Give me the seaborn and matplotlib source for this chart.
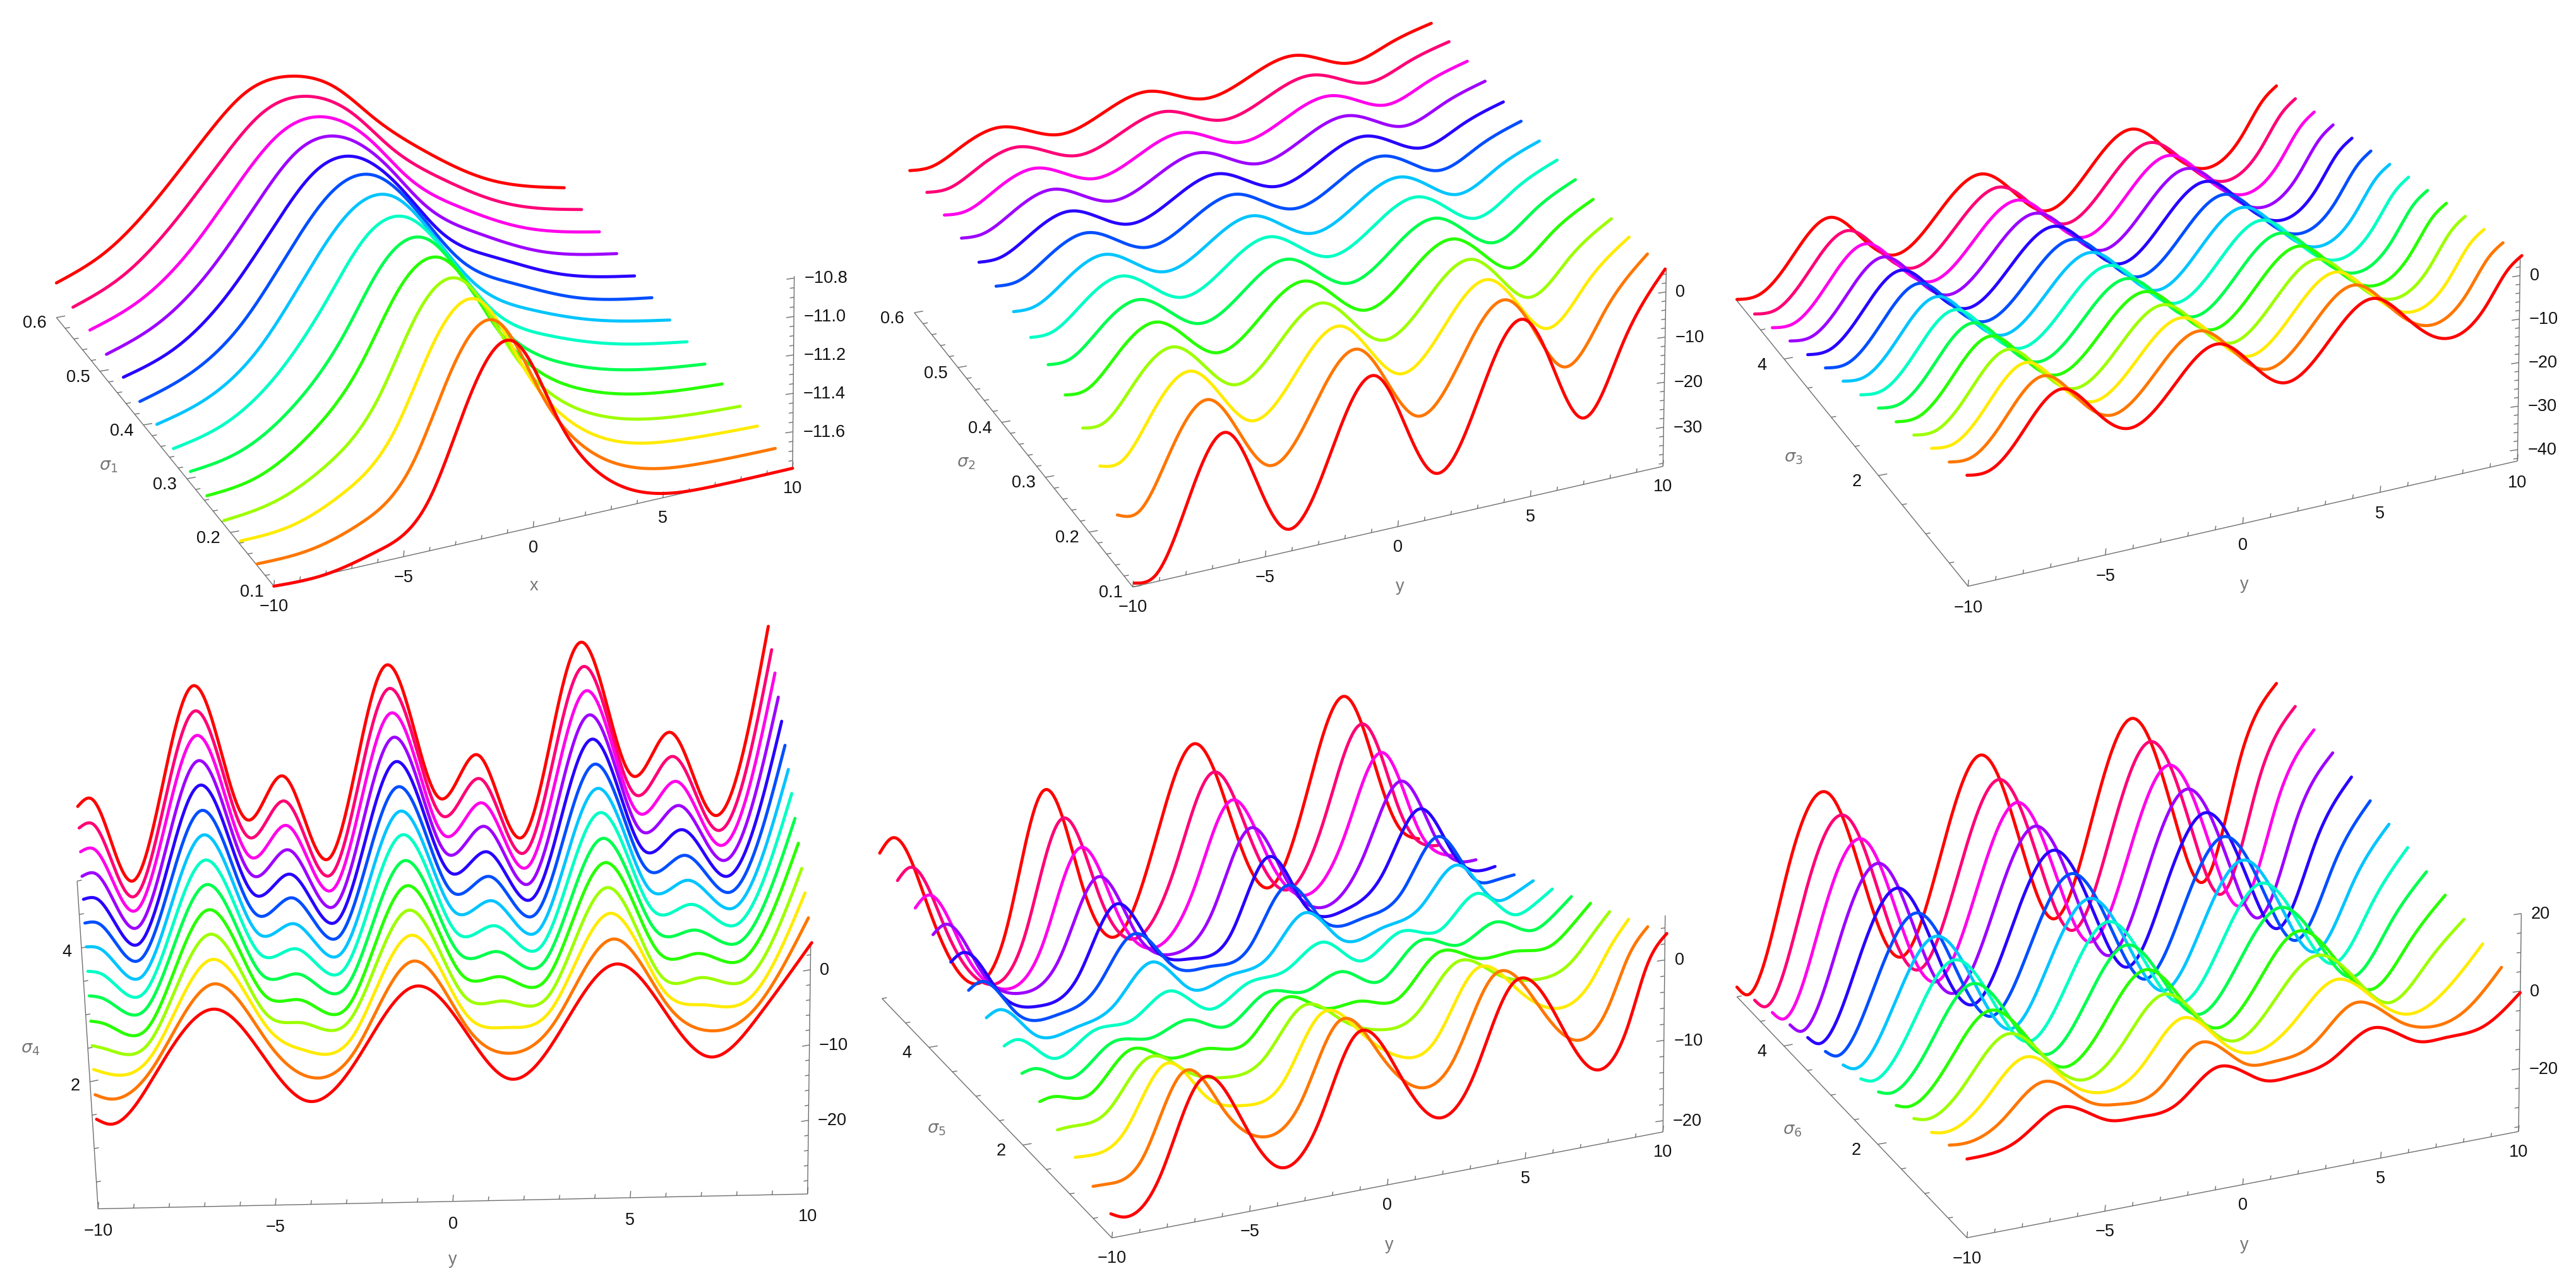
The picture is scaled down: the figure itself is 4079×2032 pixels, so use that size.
import numpy as np
import pandas as pd
import matplotlib
matplotlib.use("Agg")
import matplotlib.pyplot as plt
import seaborn as sns

sigma_a = [0.1, 0.138, 0.177, 0.215, 0.254, 0.292, 0.331, 0.369, 0.408, 0.446, 0.485, 0.523, 0.562, 0.6]
sigma_b = [0.1, 0.477, 0.854, 1.231, 1.608, 1.985, 2.362, 2.738, 3.115, 3.492, 3.869, 4.246, 4.623, 5.0]

# every row: one position on the horizontal axis; values front curve -> back curve
p1_x = [-10, -8, -6, -4, -2.5, -0.75, 1, 2.5, 4.5, 7, 10]
p1_z = [
 [-11.79,-11.78,-11.77,-11.77,-11.75,-11.73,-11.72,-11.70,-11.69,-11.67,-11.66,-11.64,-11.63,-11.61],
 [-11.79,-11.77,-11.75,-11.73,-11.71,-11.68,-11.65,-11.62,-11.60,-11.58,-11.56,-11.54,-11.52,-11.50],
 [-11.73,-11.69,-11.64,-11.60,-11.55,-11.51,-11.46,-11.42,-11.40,-11.37,-11.35,-11.33,-11.30,-11.28],
 [-11.52,-11.44,-11.37,-11.31,-11.24,-11.19,-11.12,-11.06,-11.05,-11.04,-11.03,-11.02,-11.01,-11.00],
 [-11.05,-11.00,-10.96,-10.92,-10.89,-10.87,-10.84,-10.82,-10.82,-10.82,-10.82,-10.83,-10.83,-10.83],
 [-10.80,-10.80,-10.80,-10.80,-10.80,-10.80,-10.80,-10.79,-10.79,-10.80,-10.80,-10.80,-10.80,-10.80],
 [-11.27,-11.24,-11.21,-11.19,-11.16,-11.13,-11.10,-11.08,-11.05,-11.03,-11.00,-10.97,-10.94,-10.91],
 [-11.58,-11.54,-11.50,-11.47,-11.44,-11.41,-11.38,-11.35,-11.32,-11.29,-11.25,-11.21,-11.16,-11.11],
 [-11.75,-11.72,-11.69,-11.66,-11.63,-11.60,-11.56,-11.53,-11.50,-11.47,-11.45,-11.42,-11.38,-11.34],
 [-11.79,-11.78,-11.76,-11.75,-11.73,-11.71,-11.68,-11.66,-11.65,-11.63,-11.62,-11.60,-11.58,-11.56],
 [-11.79,-11.79,-11.78,-11.78,-11.77,-11.77,-11.76,-11.75,-11.74,-11.73,-11.72,-11.71,-11.70,-11.69],
]

p2_x = [-10, -9.2, -8.1, -6.5, -5.4, -4.3, -2.6, -0.85, 0.2, 1.3, 3, 4.75, 5.8, 6.85, 8.4, 10]
p2_z = [
 [-37.8,-27.4,-21.4,-17.7,-15.2,-13.2,-12.0,-11.0,-10.2,-9.6,-9.1,-8.7,-8.5,-8.4],
 [-37.1,-27.8,-21.5,-17.6,-15.1,-13.1,-11.9,-10.9,-10.2,-9.6,-9.2,-8.9,-8.7,-8.6],
 [-24.1,-17.2,-13.0,-10.7,-9.2,-8.1,-7.4,-6.9,-6.5,-6.2,-6.0,-5.8,-5.7,-5.8],
 [-9.1,-6.5,-5.0,-4.3,-3.6,-3.3,-2.9,-2.8,-2.8,-2.7,-2.7,-2.7,-2.8,-3.1],
 [-21.25,-15.25,-11.95,-9.95,-8.45,-7.4,-6.7,-6.15,-5.85,-5.55,-5.4,-5.25,-5.15,-5.3],
 [-33.4,-24.0,-18.9,-15.6,-13.3,-11.5,-10.5,-9.5,-8.9,-8.4,-8.1,-7.8,-7.5,-7.5],
 [-18.8,-13.45,-10.7,-8.8,-7.6,-6.6,-6.0,-5.5,-5.2,-5.0,-4.9,-4.85,-4.75,-4.85],
 [-4.2,-2.9,-2.5,-2.0,-1.9,-1.7,-1.5,-1.5,-1.5,-1.6,-1.7,-1.9,-2.0,-2.2],
 [-16.35,-11.7,-9.2,-7.55,-6.55,-5.8,-5.1,-4.85,-4.5,-4.4,-4.3,-4.35,-4.3,-4.35],
 [-28.5,-20.5,-15.9,-13.1,-11.2,-9.9,-8.7,-8.2,-7.5,-7.2,-6.9,-6.8,-6.6,-6.5],
 [-13.85,-9.95,-7.75,-6.4,-5.55,-4.9,-4.3,-4.15,-3.85,-3.8,-3.75,-3.8,-3.8,-3.85],
 [0.8,0.6,0.4,0.3,0.1,0.1,0.1,-0.1,-0.2,-0.4,-0.6,-0.8,-0.95,-1.2],
 [-11.45,-8.2,-6.4,-5.3,-4.5,-4.0,-3.65,-3.4,-3.15,-3.05,-3.1,-3.15,-3.1,-3.35],
 [-23.7,-17.0,-13.2,-10.9,-9.1,-8.1,-7.4,-6.7,-6.1,-5.7,-5.6,-5.5,-5.3,-5.5],
 [-9.3,-6.6,-5.15,-4.25,-3.55,-3.15,-2.95,-2.8,-2.65,-2.6,-2.6,-2.6,-2.7,-3.05],
 [5.1,3.85,2.9,2.4,2.0,1.8,1.45,1.1,0.8,0.5,0.4,0.25,-0.1,-0.6],
]

p3_x = [-10, -9.2, -8.3, -6.55, -5.4, -4.2, -2.55, -0.9, 0.25, 1.42, 3.05, 4.7, 5.85, 7.0, 8.7, 9.5, 10]
p3_z = [
 [-17.1,-19.1,-21.0,-23.0,-25.0,-26.9,-28.9,-30.8,-32.8,-34.8,-36.7,-38.7,-40.6,-42.3],
 [-17.2,-19.2,-21.1,-23.1,-25.0,-27.0,-29.0,-30.9,-32.9,-34.8,-36.8,-38.8,-40.7,-42.4],
 [-12.5,-14.5,-16.4,-18.4,-20.3,-22.3,-24.3,-26.2,-28.2,-30.1,-32.1,-34.1,-36.0,-38.0],
 [-2.2,-4.2,-6.2,-8.2,-10.2,-12.2,-14.2,-16.2,-18.2,-20.2,-22.2,-24.2,-26.2,-28.2],
 [-8.8,-10.8,-12.7,-14.7,-16.6,-18.6,-20.6,-22.5,-24.5,-26.4,-28.4,-30.4,-32.3,-34.3],
 [-14.7,-16.7,-18.6,-20.6,-22.5,-24.5,-26.4,-28.4,-30.3,-32.3,-34.2,-36.2,-38.1,-40.1],
 [-7.3,-9.3,-11.2,-13.2,-15.1,-17.1,-19.1,-21.0,-23.0,-24.9,-26.9,-28.9,-30.8,-32.8],
 [0.0,-2.0,-4.0,-6.0,-8.0,-10.0,-12.0,-14.0,-16.0,-18.0,-20.0,-22.0,-24.0,-26.0],
 [-6.2,-8.2,-10.1,-12.1,-14.0,-16.0,-18.0,-19.9,-21.9,-23.8,-25.8,-27.8,-29.7,-31.7],
 [-12.3,-14.2,-16.2,-18.2,-20.1,-22.1,-24.0,-26.0,-27.9,-29.9,-31.8,-33.8,-35.7,-37.7],
 [-5.0,-7.0,-8.9,-10.9,-12.8,-14.8,-16.8,-18.7,-20.7,-22.6,-24.6,-26.6,-28.5,-30.5],
 [2.4,0.5,-1.5,-3.5,-5.5,-7.5,-9.5,-11.5,-13.5,-15.5,-17.5,-19.5,-21.5,-23.4],
 [-3.8,-5.8,-7.7,-9.7,-11.6,-13.6,-15.6,-17.5,-19.5,-21.4,-23.4,-25.4,-27.3,-29.3],
 [-10.0,-12.0,-13.9,-15.9,-17.8,-19.8,-21.8,-23.7,-25.7,-27.6,-29.6,-31.6,-33.5,-35.5],
 [-5.2,-7.2,-9.1,-11.1,-13.0,-15.0,-17.0,-18.9,-20.9,-22.8,-24.8,-26.8,-28.7,-30.7],
 [2.1,0.1,-1.8,-3.8,-5.7,-7.7,-9.7,-11.6,-13.6,-15.5,-17.5,-19.5,-21.4,-23.4],
 [4.6,2.6,0.7,-1.25,-3.2,-5.2,-7.1,-9.1,-11.0,-13.0,-14.9,-16.9,-18.8,-20.8],
]

p4_x = [-10, -9.6, -8.4, -6.68, -5.08, -4.07, -2.73, -1.08, 0.5, 1.58, 2.87, 4.55, 6.06, 7.15, 8.43, 10]
p4_z = [
 [-17.9,-17.9,-17.8,-17.9,-17.9,-17.8,-17.8,-17.8,-17.9,-18.0,-18.2,-18.2,-18.3,-18.7],
 [-18.6,-18.5,-18.4,-18.4,-18.3,-18.2,-18.2,-18.1,-18.0,-18.0,-17.9,-17.9,-17.8,-17.7],
 [-12.4,-14.6,-16.3,-17.7,-19.0,-19.7,-20.8,-21.8,-22.8,-24.0,-25.1,-26.1,-27.5,-28.7],
 [-3.6,-3.5,-3.5,-3.4,-3.4,-3.3,-3.3,-3.2,-3.2,-3.1,-3.1,-3.0,-3.0,-2.9],
 [-11.7,-11.9,-12.9,-14.2,-14.9,-15.5,-16.0,-16.5,-17.2,-17.8,-18.5,-19.3,-19.9,-20.8],
 [-16.1,-16.0,-15.8,-15.4,-15.6,-15.4,-15.3,-15.2,-15.0,-15.1,-15.1,-15.1,-15.1,-15.0],
 [-10.8,-12.9,-14.2,-15.1,-16.6,-17.3,-18.2,-19.2,-20.2,-21.4,-22.6,-23.7,-25.0,-26.1],
 [-1.1,-1.0,-0.8,-0.7,-0.7,-0.6,-0.4,-0.5,-0.5,-0.4,-0.4,-0.4,-0.4,-0.5],
 [-8.5,-10.4,-11.6,-12.3,-12.7,-13.1,-13.6,-14.0,-14.6,-15.2,-16.0,-16.8,-17.4,-18.3],
 [-13.7,-13.5,-13.3,-13.0,-13.0,-12.9,-12.7,-12.6,-12.6,-12.55,-12.4,-12.5,-12.5,-12.55],
 [-8.2,-9.6,-11.0,-12.4,-13.5,-14.5,-15.6,-16.7,-17.7,-18.8,-20.0,-21.1,-22.4,-23.6],
 [1.3,1.4,1.6,1.8,1.9,1.9,2.1,2.1,2.1,2.2,2.2,2.2,2.2,2.2],
 [-6.3,-7.6,-9.0,-10.2,-10.2,-10.5,-11.0,-11.5,-12.0,-12.7,-13.3,-14.1,-14.9,-15.6],
 [-11.3,-11.0,-10.8,-10.4,-10.4,-10.5,-10.3,-10.3,-10.2,-10.0,-10.0,-10.0,-9.9,-9.9],
 [-6.5,-8.6,-10.1,-10.8,-11.3,-12.2,-13.1,-14.1,-15.2,-16.3,-17.4,-18.6,-19.8,-21.0],
 [3.6,3.7,3.8,3.85,4.0,4.1,4.2,4.2,4.2,4.2,4.2,4.2,4.1,4.0],
]

p5_x = [-10, -9.55, -8.2, -6.75, -5.3, -3.95, -2.5, -1.15, 0.3, 1.67, 3, 4.45, 5.9, 7.25, 8.6, 9.3, 10]
p5_z = [
 [-18.4,-17.3,-16.0,-14.9,-13.7,-12.5,-11.4,-10.2,-9.1,-7.9,-6.8,-5.8,-4.7,-3.6],
 [-19.1,-17.35,-16.1,-14.8,-13.4,-12.2,-10.9,-9.5,-8.3,-7.0,-5.8,-4.5,-3.35,-2.0],
 [-14.7,-14.9,-13.9,-13.8,-14.0,-14.2,-14.1,-13.5,-13.2,-12.9,-12.6,-12.3,-12.0,-11.4],
 [-3.8,-5.2,-6.5,-8.1,-9.4,-10.8,-11.6,-13.5,-14.2,-15.4,-16.1,-17.9,-19.5,-21.5],
 [-9.7,-10.8,-11.4,-10.7,-11.3,-11.1,-11.1,-11.5,-11.7,-12.5,-12.4,-13.3,-14.6,-16.0],
 [-16.6,-15.1,-13.5,-12.3,-11.0,-9.7,-8.4,-7.1,-5.9,-4.5,-3.4,-2.1,-0.8,0.4],
 [-11.8,-11.7,-11.6,-10.8,-11.2,-11.4,-11.6,-11.4,-10.8,-11.0,-11.4,-11.3,-11.4,-12.0],
 [-1.8,-2.6,-4.0,-5.3,-6.6,-8.2,-9.3,-10.6,-11.7,-13.0,-14.7,-16.2,-17.3,-19.2],
 [-7.3,-7.4,-7.1,-7.9,-8.7,-8.9,-8.5,-9.2,-10.2,-10.8,-10.3,-9.7,-9.1,-7.5],
 [-14.1,-12.6,-11.0,-10.0,-8.7,-7.3,-5.9,-4.5,-3.4,-2.1,-0.8,0.4,1.6,2.9],
 [-10.2,-10.1,-10.0,-8.9,-9.3,-9.4,-9.1,-8.7,-8.6,-8.9,-7.9,-7.3,-6.9,-6.8],
 [0.7,-0.5,-2.1,-3.4,-4.5,-5.3,-6.4,-8.2,-9.2,-10.5,-12.3,-13.1,-14.7,-16.7],
 [-3.5,-4.4,-5.2,-5.8,-6.1,-6.7,-7.1,-6.4,-6.8,-6.7,-6.6,-6.2,-5.7,-5.2],
 [-11.6,-10.3,-8.7,-7.4,-6.1,-4.7,-3.4,-2.1,-0.8,0.4,1.6,2.9,4.2,5.4],
 [-7.3,-7.0,-6.5,-6.1,-6.2,-6.6,-6.9,-7.3,-7.1,-6.7,-6.8,-7.6,-7.5,-6.4],
 [-0.1,-1.35,-2.6,-3.45,-4.3,-5.35,-6.2,-7.0,-7.55,-8.6,-9.6,-10.8,-11.7,-12.3],
 [3.3,1.9,0.6,-0.7,-1.9,-3.3,-4.6,-5.8,-7.3,-8.5,-9.9,-11.6,-12.6,-14.0],
]

p6_x = [-10, -9.6, -8.1, -6.62, -4.85, -3.9, -2.4, -0.95, 0.8, 1.7, 3.2, 4.65, 6.34, 7.26, 8.7, 10]
p6_z = [
 [-15.9,-17.1,-18.6,-19.8,-21.2,-22.5,-23.9,-25.1,-26.4,-27.6,-29.1,-30.7,-32.3,-33.7],
 [-15.9,-17.4,-19.2,-20.6,-22.1,-23.4,-25.0,-26.6,-28.1,-29.7,-31.3,-32.9,-34.5,-36.2],
 [-13.4,-13.4,-13.2,-13.0,-12.8,-12.5,-12.2,-11.5,-10.2,-9.5,-8.0,-7.2,-6.5,-5.5],
 [-7.2,-5.4,-3.8,-2.6,-1.3,0.8,2.2,3.6,4.9,6.5,8.0,9.5,10.8,12.0],
 [-13.0,-13.2,-13.5,-13.6,-13.8,-14.0,-14.5,-15.3,-17.1,-19.1,-20.9,-22.1,-22.6,-22.7],
 [-13.6,-14.9,-16.6,-18.1,-19.5,-21.0,-22.4,-23.9,-25.3,-27.0,-28.7,-30.5,-32.2,-33.7],
 [-12.1,-12.9,-12.1,-10.7,-9.9,-9.1,-8.7,-7.9,-7.6,-7.3,-7.5,-7.7,-7.9,-8.1],
 [-4.6,-3.1,-1.5,-0.05,1.6,3.3,4.6,5.9,7.6,8.9,10.4,11.8,13.0,14.6],
 [-10.5,-11.0,-11.3,-11.6,-11.9,-12.3,-12.8,-13.2,-13.6,-14.1,-14.9,-15.6,-16.3,-16.9],
 [-10.7,-11.6,-13.8,-15.5,-16.9,-18.1,-19.8,-21.4,-23.1,-24.7,-26.4,-27.6,-29.3,-31.0],
 [-8.3,-8.9,-7.6,-6.2,-6.9,-6.0,-6.2,-5.8,-5.5,-5.1,-5.8,-5.9,-6.1,-6.2],
 [-2.2,-0.5,0.9,2.5,4.1,5.5,7.1,8.4,9.8,11.3,12.7,14.2,15.6,16.9],
 [-8.0,-7.6,-7.8,-7.9,-8.5,-8.7,-9.3,-9.9,-10.5,-10.7,-11.8,-12.4,-13.1,-13.7],
 [-8.3,-10.2,-11.5,-13.2,-14.5,-15.9,-17.1,-18.7,-20.4,-22.0,-23.9,-25.5,-27.1,-28.7],
 [-7.2,-7.8,-6.9,-4.5,-4.1,-3.7,-3.4,-2.5,-2.1,-1.2,0.3,0.7,1.6,2.5],
 [-0.4,1.5,2.9,4.6,6.2,7.6,9.2,10.6,12.0,13.5,15.1,16.4,17.8,19.1],
]

x_ticks = [-10, -5, 0, 5, 10]
minus = "\u2212"


def fmt(v, dec=0):
    s = f"{abs(v):.{dec}f}"
    return (minus + s) if v < 0 else s


# camera of each panel: view box offsets and floor corners
PANELS = [
 dict(name="x", sig="1", xk=p1_x, zt=p1_z, sigma=sigma_a, ox=0, oy=60, sx=1568/1360, sy=1568/960,
      FL=(500,1420), FR=(1447,1115), BL=(103,725), BR=(1030,439), axL=500, axR=1447, zmin=-11.79, k=497, ztop=-10.79,
      zt_major=[-11.6,-11.4,-11.2,-11.0,-10.8], zt_minor=0.05, zdec=1, s_major=[0.1,0.2,0.3,0.4,0.5,0.6], s_minor=0.02, sdec=1,
      tend=1.0, tilt=3, xlab=(975,1417), slab=(198,1107)),
 dict(name="y", sig="2", xk=p2_x, zt=p2_z, sigma=sigma_a, ox=1360, oy=0, sx=1568/1360, sy=1568/960,
      FL=(503,1520), FR=(1472,1208), BL=(93,796), BR=(1045,506), axL=500, axR=1468, zmin=-38.65, k=11.67, ztop=4.9,
      zt_major=[-30,-20,-10,0], zt_minor=2, zdec=0, s_major=[0.1,0.2,0.3,0.4,0.5,0.6], s_minor=0.02, sdec=1,
      tend=0.98, tilt=6, xlab=(988,1517), slab=(196,1198)),
 dict(name="y", sig="3", xk=p3_x, zt=p3_z, sigma=sigma_b, ox=2720, oy=0, sx=1568/1360, sy=1568/1010,
      FL=(455,1443), FR=(1468,1135), BL=(35,741), BR=(1020,446), axL=457, axR=1460, zmin=-42.6, k=10.7, ztop=4.4,
      zt_major=[-40,-30,-20,-10,0], zt_minor=2, zdec=0, s_major=[2,4], s_minor=0.5, sdec=0,
      tend=1.0, tilt=5, xlab=(961,1438), slab=(138,1125)),
 dict(name="y", sig="4", xk=p4_x, zt=p4_z, sigma=sigma_b, ox=60, oy=980, sx=1568/1300, sy=1568/1050,
      FL=(112,1397), FR=(1478,1362), BL=(76,643), BR=(1395,621), axL=115, axR=1470, zmin=-29.8, k=17.8, ztop=3.46,
      zt_major=[-20,-10,0], zt_minor=2, zdec=0, s_major=[2,4], s_minor=0.5, sdec=0,
      tend=1.028, tilt=6, xlab=(792,1515), slab=(-14,1017)),
 dict(name="y", sig="5", xk=p5_x, zt=p5_z, sigma=sigma_b, ox=1360, oy=1080, sx=1568/1360, sy=1568/950,
      FL=(460,1455), FR=(1475,1178), BL=(38,823), BR=(1022,567), axL=462, axR=1468, zmin=-21.4, k=21, ztop=5.55,
      zt_major=[-20,-10,0], zt_minor=2, zdec=0, s_major=[2,4], s_minor=0.5, sdec=0,
      tend=0.99, tilt=4, xlab=(968,1472), slab=(142,1168)),
 dict(name="y", sig="6", xk=p6_x, zt=p6_z, sigma=sigma_b, ox=2720, oy=1060, sx=1568/1360, sy=1568/970,
      FL=(455,1457), FR=(1465,1185), BL=(35,840), BR=(1020,587), axL=455, axR=1462, zmin=-36.2, k=9.93, ztop=20.0,
      zt_major=[-20,0,20], zt_minor=5, zdec=0, s_major=[2,4], s_minor=0.5, sdec=0,
      tend=1.0, tilt=5, xlab=(961,1475), slab=(136,1180)),
]


def smooth(xk, yk, xq):
    """Natural cubic spline through the read values: only the look of the drawn line."""
    xk, yk = np.asarray(xk, float), np.asarray(yk, float)
    n = len(xk)
    h = np.diff(xk)
    A = np.zeros((n, n))
    b = np.zeros(n)
    A[0, 0] = A[-1, -1] = 1
    for j in range(1, n - 1):
        A[j, j - 1] = h[j - 1]
        A[j, j] = 2 * (h[j - 1] + h[j])
        A[j, j + 1] = h[j]
        b[j] = 6 * ((yk[j + 1] - yk[j]) / h[j] - (yk[j] - yk[j - 1]) / h[j - 1])
    m = np.linalg.solve(A, b)
    i = np.clip(np.searchsorted(xk, xq, side="right") - 1, 0, n - 2)
    a = xk[i + 1] - xq
    c = xq - xk[i]
    return (m[i] * a**3 + m[i + 1] * c**3) / (6 * h[i]) + (yk[i] / h[i] - m[i] * h[i] / 6) * a + (yk[i + 1] / h[i] - m[i + 1] * h[i] / 6) * c


sns.set_theme(style="white")
plt.rcParams["font.family"] = ["Liberation Sans", "DejaVu Sans"]
plt.rcParams["mathtext.fontset"] = "dejavusans"

hues = sns.hls_palette(13, h=0, l=0.5, s=1.0)
palette = {i: (hues[i] if i < 13 else hues[0]) for i in range(14)}

fig = plt.figure(figsize=(40.8, 20.33), dpi=100)
ax = fig.add_axes([0, 0, 1, 1])
ax.set_xlim(0, 4080)
ax.set_ylim(2033, 0)
ax.axis("off")

AXC = "#6e6e6e"
TXT = "#111111"
LAB = "#777777"
FS = 19.5

for P in PANELS:
    FL, FR, BL, BR = map(np.array, (P["FL"], P["FR"], P["BL"], P["BR"]))
    smin, smax = P["sigma"][0], P["sigma"][-1]
    axL, axR = P["axL"], P["axR"]

    def floor(x, t):
        u = (np.asarray(x, float) + 10) / 20
        L = FL + (BL - FL) * t
        R = FR + (BR - FR) * t
        return L[0] + (R[0] - L[0]) * u, L[1] + (R[1] - L[1]) * u

    def axfloor(x):
        u = (x + 10) / 20
        return axL + (axR - axL) * u, FL[1] + (FR[1] - FL[1]) * u

    def real(dx, dy):
        return P["ox"] + np.asarray(dx) / P["sx"], P["oy"] + np.asarray(dy) / P["sy"]

    def seg(p, q, lw=1.0):
        rx, ry = real([p[0], q[0]], [p[1], q[1]])
        ax.plot(rx, ry, color=AXC, lw=lw, solid_capstyle="butt", zorder=1)

    # axes
    seg(axfloor(-10), axfloor(10))
    pA = (axL, FL[1])
    pB = (axL + (BL[0] - axL) * P["tend"], FL[1] + (BL[1] - FL[1]) * P["tend"])
    seg(pA, pB)
    ztopy = FR[1] - P["k"] * (P["ztop"] - P["zmin"])
    seg((axR, FR[1]), (axR + P["tilt"], ztopy))

    # horizontal axis ticks
    for v in range(-10, 11):
        fx, fy = axfloor(v)
        L = 16 if v in x_ticks else 10
        seg((fx, fy), (fx + 1, fy - L))
        if v in x_ticks:
            tx, ty = real(fx, fy + 52)
            ax.text(tx, ty, fmt(v), ha="center", va="center", fontsize=FS, color=TXT)
    tx, ty = real(*P["xlab"])
    ax.text(tx, ty, P["name"], ha="center", va="center", fontsize=FS, color=LAB)

    # sigma axis ticks
    first = np.ceil(smin / P["s_minor"] - 1e-9) * P["s_minor"]
    v = first
    while v <= smax + 1e-9:
        t = (v - smin) / (smax - smin) * P["tend"]
        fx = axL + (BL[0] - axL) * t
        fy = FL[1] + (BL[1] - FL[1]) * t
        major = any(abs(v - m) < 1e-6 for m in P["s_major"])
        L = 1.0 if major else 0.55
        seg((fx, fy), (fx + 16 * L, fy - 4 * L))
        if major:
            tx, ty = real(fx - 40 if P["sig"] != "4" else fx - 28, fy + 14 if P["sig"] != "4" else fy + 8)
            ax.text(tx, ty, fmt(v, P["sdec"]), ha="center", va="center", fontsize=FS, color=TXT)
        v += P["s_minor"]
    tx, ty = real(*P["slab"])
    ax.text(tx, ty, rf"$\sigma_{{{P['sig']}}}$", ha="center", va="center", fontsize=FS, color=LAB)

    # height axis ticks
    zv = np.ceil(P["zmin"] / P["zt_minor"] - 1e-9) * P["zt_minor"]
    while zv <= P["ztop"] + 1e-9:
        yy = FR[1] - P["k"] * (zv - P["zmin"])
        xx = axR + P["tilt"] * (zv - P["zmin"]) / (P["ztop"] - P["zmin"])
        major = any(abs(zv - m) < 1e-6 for m in P["zt_major"])
        L = 1.0 if major else 0.55
        seg((xx, yy), (xx - 14 * L, yy + 3 * L))
        if major:
            tx, ty = real(xx + 18, yy)
            ax.text(tx, ty, fmt(zv, P["zdec"]), ha="left", va="center", fontsize=FS, color=TXT)
        zv += P["zt_minor"]

    # curves, back to front
    table = np.array(P["zt"])
    xq = np.linspace(-10, 10, 500)
    frames = []
    for i, s in enumerate(P["sigma"]):
        z = smooth(P["xk"], table[:, i], xq)
        t = (s - smin) / (smax - smin)
        fx, fy = floor(xq, t)
        rx, ry = real(fx, fy - P["k"] * (z - P["zmin"]))
        frames.append(pd.DataFrame(dict(curve=i, value=z, sx=rx, sy=ry, step=np.arange(len(xq)))))
    df = pd.concat(frames, ignore_index=True)
    for i in range(13, -1, -1):
        sns.lineplot(data=df[df.curve == i], x="sx", y="sy", color=palette[i], estimator=None,
                     sort=False, legend=False, linewidth=3.5, ax=ax, zorder=3 + (13 - i) * 0.01,
                     solid_capstyle="round")

ax.set_xlim(0, 4080)
ax.set_ylim(2033, 0)
ax.axis("off")
fig.savefig("out.png", dpi=100, facecolor="white")
